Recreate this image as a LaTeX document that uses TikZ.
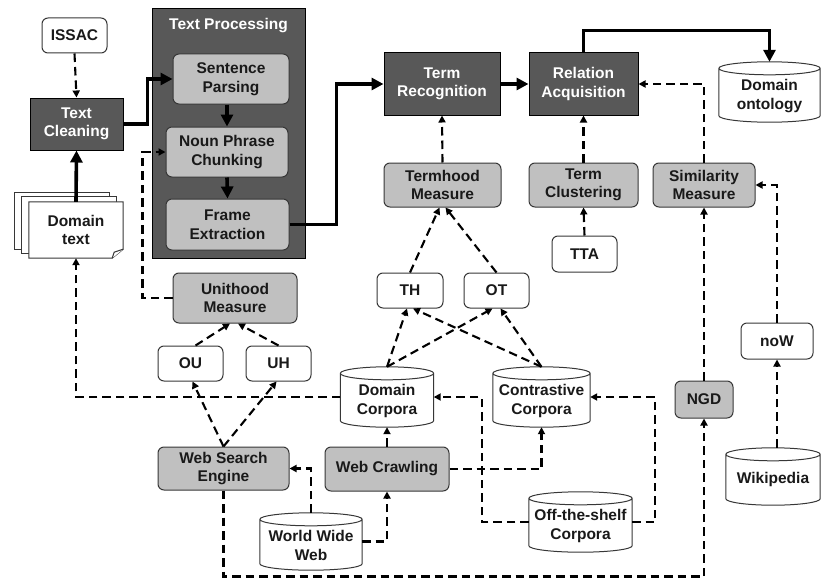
\documentclass[tikz,border=0pt]{standalone}
\usepackage{fontspec}
\setmainfont{Liberation Sans}
\usetikzlibrary{arrows.meta,calc}

\definecolor{boxdark}{RGB}{88,88,88}
\definecolor{boxlight}{RGB}{192,192,192}
\definecolor{edge}{RGB}{55,55,55}
\definecolor{ink}{RGB}{25,25,25}

\tikzset{
  sz/.style 2 args={minimum width=#1pt, minimum height=#2pt},
  base/.style={font=\fontsize{15.5}{18.5}\selectfont\bfseries, align=center, inner sep=0pt},
  darkbox/.style={base, draw=black, line width=1pt, fill=boxdark, text=white},
  greybox/.style={base, draw=edge, line width=1pt, fill=boxlight, rounded corners=6pt, text=ink},
  whitebox/.style={base, draw=edge, line width=1pt, fill=white, rounded corners=6pt, text=ink},
  shell/.style={base},
  caption/.style={base, text=ink},
  outline/.style={draw=edge, line width=1pt, fill=white},
  flow/.style={line width=3.6pt, -{Triangle[length=12pt,width=12pt]}},
  link/.style={line width=2.1pt, dash pattern=on 8.5pt off 5pt, -{Triangle[length=7pt,width=7pt]}},
}

% database drum drawn around an empty node
\newcommand\drum[1]{%
  \path[outline] let \p1=(#1.north west), \p2=(#1.south east),
      \n1={(\x2-\x1)/2}, \n2={6.5pt} in
    (\x1,\y1-\n2) -- (\x1,\y2+\n2)
      arc[start angle=180,end angle=360,x radius=\n1,y radius=\n2]
      -- (\x2,\y1-\n2)
      arc[start angle=0,end angle=180,x radius=\n1,y radius=\n2] -- cycle
    (\x1,\y1-\n2) arc[start angle=180,end angle=360,x radius=\n1,y radius=\n2];}

\begin{document}
\begin{tikzpicture}[x=1pt,y=-1pt]
\useasboundingbox (0,0) rectangle (821,578);

% ---- text processing block
\node[darkbox, sz={153}{249}] (tp) at (228.5,133.5) {};
\node[base, text=white] (tptitle) at (228.5,26) {Text Processing};
\node[greybox, sz={116}{50}] (sp) at (231,79) {Sentence\\Parsing};
\node[greybox, sz={122}{50}] (np) at (227,152) {Noun Phrase\\Chunking};
\node[greybox, sz={123}{51}] (fe) at (227.5,224.5) {Frame\\Extraction};

% ---- left column
\node[whitebox, sz={65}{35}] (issac) at (74.5,35.5) {ISSAC};
\node[darkbox, sz={93}{52}] (tc) at (76.5,124) {Text\\Cleaning};

\node[shell, sz={94}{56}] (doc) at (76,230) {};
\path[outline] ([shift={(-14,-9)}]doc.north west) rectangle ([shift={(-14,-9)}]doc.south east);
\path[outline] ([shift={(-7,-5)}]doc.north west) rectangle ([shift={(-7,-5)}]doc.south east);
\path[outline] (doc.north west) -- (doc.north east) -- ([yshift=9pt]doc.south east)
  -- ([xshift=-11pt]doc.south east) -- (doc.south west) -- cycle;
\path[outline] ([xshift=-11pt]doc.south east) -- ([xshift=-9pt,yshift=6pt]doc.south east)
  -- ([yshift=9pt]doc.south east);
\node[caption] (doctext) at (doc) {Domain\\text};

% ---- unithood branch
\node[greybox, sz={124}{50}] (uni) at (235,298) {Unithood\\Measure};
\node[whitebox, sz={65}{35}] (ou) at (190.5,363.5) {OU};
\node[whitebox, sz={65}{35}] (uh) at (278.5,363.5) {UH};
\node[greybox, sz={131}{43}] (wse) at (223.5,468.5) {Web Search\\Engine};

\node[shell, sz={102}{57}] (www) at (311,541.5) {};
\drum{www}
\node[caption, yshift=-4pt] (wwwtext) at (www) {World Wide\\Web};

\node[greybox, sz={124}{44}] (wc) at (387,469) {Web Crawling};

\node[shell, sz={93}{60}] (dc) at (387,397) {};
\drum{dc}
\node[caption, yshift=-4pt] (dctext) at (dc) {Domain\\Corpora};

\node[shell, sz={97}{60}] (cc) at (541.5,397) {};
\drum{cc}
\node[caption, yshift=-4pt] (cctext) at (cc) {Contrastive\\Corpora};

\node[shell, sz={103}{60}] (ots) at (580.5,522) {};
\drum{ots}
\node[caption, yshift=-4pt] (otstext) at (ots) {Off-the-shelf\\Corpora};

% ---- termhood branch
\node[darkbox, sz={116}{62}] (tr) at (442,84) {Term\\Recognition};
\node[greybox, sz={117}{44}] (thm) at (442.5,185) {Termhood\\Measure};
\node[whitebox, sz={66}{35}] (th) at (410,290.5) {TH};
\node[whitebox, sz={65}{35}] (ot) at (496.5,290.5) {OT};

% ---- relation branch
\node[darkbox, sz={109}{62}] (ra) at (583.5,84) {Relation\\Acquisition};
\node[greybox, sz={109}{44}] (tcl) at (583.5,185) {Term\\Clustering};
\node[whitebox, sz={65}{36}] (tta) at (584.5,254) {TTA};
\node[greybox, sz={102}{44}] (sim) at (704,185) {Similarity\\Measure};
\node[greybox, sz={58}{37}] (ngd) at (704,399.5) {NGD};
\node[whitebox, sz={72}{36}] (now) at (777,341) {noW};

\node[shell, sz={94}{57}] (wiki) at (773,476.5) {};
\drum{wiki}
\node[caption, yshift=-3pt] (wikitext) at (wiki) {Wikipedia};

\node[shell, sz={101}{60}] (onto) at (769.5,92) {};
\drum{onto}
\node[caption, yshift=-4pt] (ontotext) at (onto) {Domain\\ontology};

% ---- main flow
\draw[flow] (doc.north) -- (tc.south);
\draw[flow] (tc.east) -- ++(24,0) |- (sp.west);
\draw[flow] (np.north |- sp.south) -- (np.north);
\draw[flow] (np.south) -- (fe.north);
\draw[flow] (fe.east) -- ++(47,0) |- (tr.west);
\draw[flow] (tr.east) -- (ra.west);
\draw[flow] (ra.north) -- ++(0,-22) -| (onto.north);

% ---- supporting links
\draw[link] (issac.south) -- (tc.north);
\draw[link] (uni.west) -- ++(-30,0) |- (np.west);
\draw[link] ([xshift=5pt]ou.north) -- ([xshift=-5pt]uni.south);
\draw[link] (uh.north) -- ([xshift=3pt]uni.south);
\draw[link] (wse.north) -- ([xshift=2pt]ou.south);
\draw[link] (wse.north) -- ([xshift=-2pt]uh.south);
\draw[link] (dc.west) -| (doc.south);
\draw[link] (wse.south) -- ++(0,86) -| (ngd.south);
\draw[link] (www.north) |- (wse.east);
\draw[link] (www.east) -| (wc.south);
\draw[link] (wc.north) -- (dc.south);
\draw[link] (wc.east) -| (cc.south);
\draw[link] (ots.west) -- ++(-47,0) |- (dc.east);
\draw[link] (ots.east) -- ++(23,0) |- (cc.east);

\draw[link] (dc.north) -- ([xshift=-3pt]th.south);
\draw[link] (dc.north) -- ([xshift=-4pt]ot.south);
\draw[link] (cc.north) -- ([xshift=3pt]th.south);
\draw[link] (cc.north) -- ([xshift=4pt]ot.south);
\draw[link] (th.north) -- ([xshift=-3pt]thm.south);
\draw[link] (ot.north) -- ([xshift=3pt]thm.south);
\draw[link] (thm.north) -- (tr.south);

\draw[link] (tta.north) -- (tcl.south);
\draw[link] (tcl.north) -- (ra.south);
\draw[link] (ngd.north) -- (sim.south);
\draw[link] (sim.north) |- (ra.east);
\draw[link] (now.north) |- (sim.east);
\draw[link] (now.south |- wiki.north) -- (now.south);
\end{tikzpicture}
\end{document}
